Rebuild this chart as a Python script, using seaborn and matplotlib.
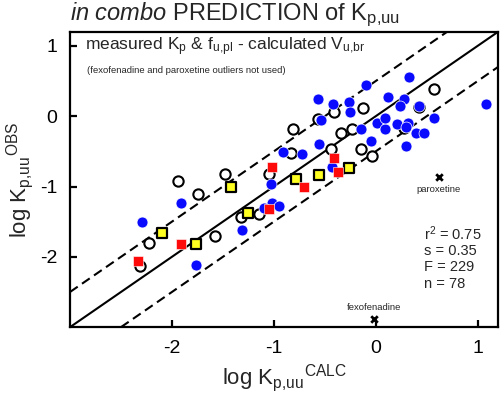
import numpy as np
import pandas as pd
import matplotlib
matplotlib.use("Agg")
import matplotlib.pyplot as plt
import seaborn as sns

# ---- data ----
open_x = [-1.94, -1.48, -1.74, -2.22, -1.58, -1.32, -1.15, -1.05, -2.31, -0.83, -0.12,
          -0.41, -0.57, -0.81, -0.34, -0.23, -0.44, -0.14, -0.04, 0.57, 0.42, 0.28]
open_y = [-0.92, -0.82, -1.11, -1.80, -1.70, -1.44, -1.39, -0.82, -2.13, -0.52, 0.11,
          0.06, -0.04, -0.18, -0.24, -0.18, -0.46, -0.46, -0.56, 0.39, 0.13, -0.17]

blue_x = [-1.91, -2.29, -1.76, -0.91, -0.72, -1.03, -1.02, -0.95, -1.10, -1.31, -0.10,
          -0.57, -0.42, -0.26, 0.12, -0.25, -0.54, -0.14, 0.01, 0.09, 0.09, -0.05,
          -0.56, -0.43, 0.33, 0.28, 0.24, 0.42, 1.08, 0.57, 0.21, 0.32, 0.30, 0.40,
          0.47, 0.30]
blue_y = [-1.24, -1.51, -2.11, -0.51, -0.54, -0.96, -1.23, -1.27, -1.31, -1.62, 0.44,
          0.25, 0.18, 0.20, 0.27, 0.06, -0.06, -0.18, -0.10, -0.18, -0.03, -0.35,
          -0.39, -0.72, 0.56, 0.25, 0.14, 0.15, 0.17, -0.03, -0.11, -0.10, -0.15, -0.24,
          -0.24, -0.42]

red_x = [-2.33, -1.91, -1.02, -0.70, -1.05, -0.41, -0.37]
red_y = [-2.06, -1.82, -0.72, -1.01, -1.32, -0.59, -0.79]

yellow_x = [-2.10, -1.76, -1.42, -0.78, -1.25, -0.56, -0.26]
yellow_y = [-1.66, -1.82, -1.01, -0.89, -1.37, -0.83, -0.73]

outlier_names = ["paroxetine", "fexofenadine"]
outlier_x = [0.62, -0.02]
outlier_y = [-0.86, -2.89]

stats_lines = ["r$^{2}$ = 0.75", "s = 0.35", "F = 229", "n = 78"]
ticks = [-2, -1, 0, 1]

# ---- style ----
sns.set_style("white")
plt.rcParams["font.family"] = ["Liberation Sans", "DejaVu Sans"]
plt.rcParams["mathtext.fontset"] = "custom"
plt.rcParams["mathtext.rm"] = "Liberation Sans"
plt.rcParams["mathtext.it"] = "Liberation Sans:italic"
plt.rcParams["mathtext.bf"] = "Liberation Sans:bold"
plt.rcParams["axes.unicode_minus"] = False

fig = plt.figure(figsize=(5.0, 3.98), dpi=100)
ax = fig.add_axes([0.14, 0.178, 0.856, 0.742])

lo, hi = -3.0, 1.2
ax.set_xlim(lo, hi)
ax.set_ylim(lo, hi)

# reference lines y = x, y = x +/- 0.5
ax.axline((0, 0), slope=1, color="black", lw=1.5, zorder=1)
ax.axline((0, 0.5), slope=1, color="black", lw=1.5, ls=(0, (4.5, 2.5)), zorder=1)
ax.axline((0, -0.5), slope=1, color="black", lw=1.5, ls=(0, (4.5, 2.5)), zorder=1)

df_open = pd.DataFrame({"x": open_x, "y": open_y})
df_blue = pd.DataFrame({"x": blue_x, "y": blue_y})
df_red = pd.DataFrame({"x": red_x, "y": red_y})
df_yel = pd.DataFrame({"x": yellow_x, "y": yellow_y})
df_out = pd.DataFrame({"x": outlier_x, "y": outlier_y, "name": outlier_names})

sns.scatterplot(data=df_open, x="x", y="y", marker="o", s=55, color="white",
                edgecolor="black", linewidth=1.5, ax=ax, zorder=2)
sns.scatterplot(data=df_blue, x="x", y="y", marker="o", s=62, color="#0a0aff",
                edgecolor="white", linewidth=0.5, ax=ax, zorder=3)
sns.scatterplot(data=df_yel, x="x", y="y", marker="s", s=55, color="#ffff22",
                edgecolor="black", linewidth=1.6, ax=ax, zorder=4)
sns.scatterplot(data=df_red, x="x", y="y", marker="s", s=48, color="#ff0a0a",
                edgecolor="white", linewidth=0.4, ax=ax, zorder=5)
sns.scatterplot(data=df_out, x="x", y="y", marker="x", s=22, color="black",
                linewidth=2, ax=ax, zorder=5)

for _, r in df_out.iterrows():
    if r["name"] == "paroxetine":
        ax.annotate(r["name"], (r["x"], r["y"]), xytext=(0, -6), textcoords="offset points",
                    ha="center", va="top", fontsize=6.8)
    else:
        ax.annotate(r["name"], (r["x"], r["y"]), xytext=(0, 5), textcoords="offset points",
                    ha="center", va="bottom", fontsize=6.8)

# in-axes texts
ax.text(0.035, 0.95, "measured K$_{\\mathrm{p}}$ & f$_{\\mathrm{u{,}pl}}$ - calculated V$_{\\mathrm{u{,}br}}$",
        transform=ax.transAxes, ha="left", va="center", fontsize=12.5)
ax.text(0.04, 0.868, "(fexofenadine and paroxetine outliers not used)",
        transform=ax.transAxes, ha="left", va="center", fontsize=6.8)

for i, line in enumerate(stats_lines):
    ax.text(0.827, 0.315 - i * 0.056, line, transform=ax.transAxes, ha="left",
            va="center", fontsize=10.5)

# axes styling
ax.set_xticks(ticks)
ax.set_yticks(ticks)
ax.set_xticklabels([str(t) for t in ticks])
ax.set_yticklabels([str(t) for t in ticks])
for sp in ax.spines.values():
    sp.set_color("black")
    sp.set_linewidth(1.6)
ax.tick_params(axis="both", which="major", direction="in", length=5, width=1.6,
               labelsize=14, color="black", labelcolor="black",
               bottom=True, left=True, top=False, right=False, pad=9)

ax.set_xlabel("log K$_{\\mathrm{p{,}uu}}$$^{\\mathrm{CALC}}$", fontsize=16, labelpad=4)
ax.set_ylabel("log K$_{\\mathrm{p{,}uu}}$$^{\\mathrm{OBS}}$", fontsize=16, labelpad=3)

fig.text(0.14, 0.962, "$\\it{in\\ combo}$ PREDICTION of K$_{\\mathrm{p{,}uu}}$",
         ha="left", va="center", fontsize=17)

fig.savefig("out.png", dpi=100)
